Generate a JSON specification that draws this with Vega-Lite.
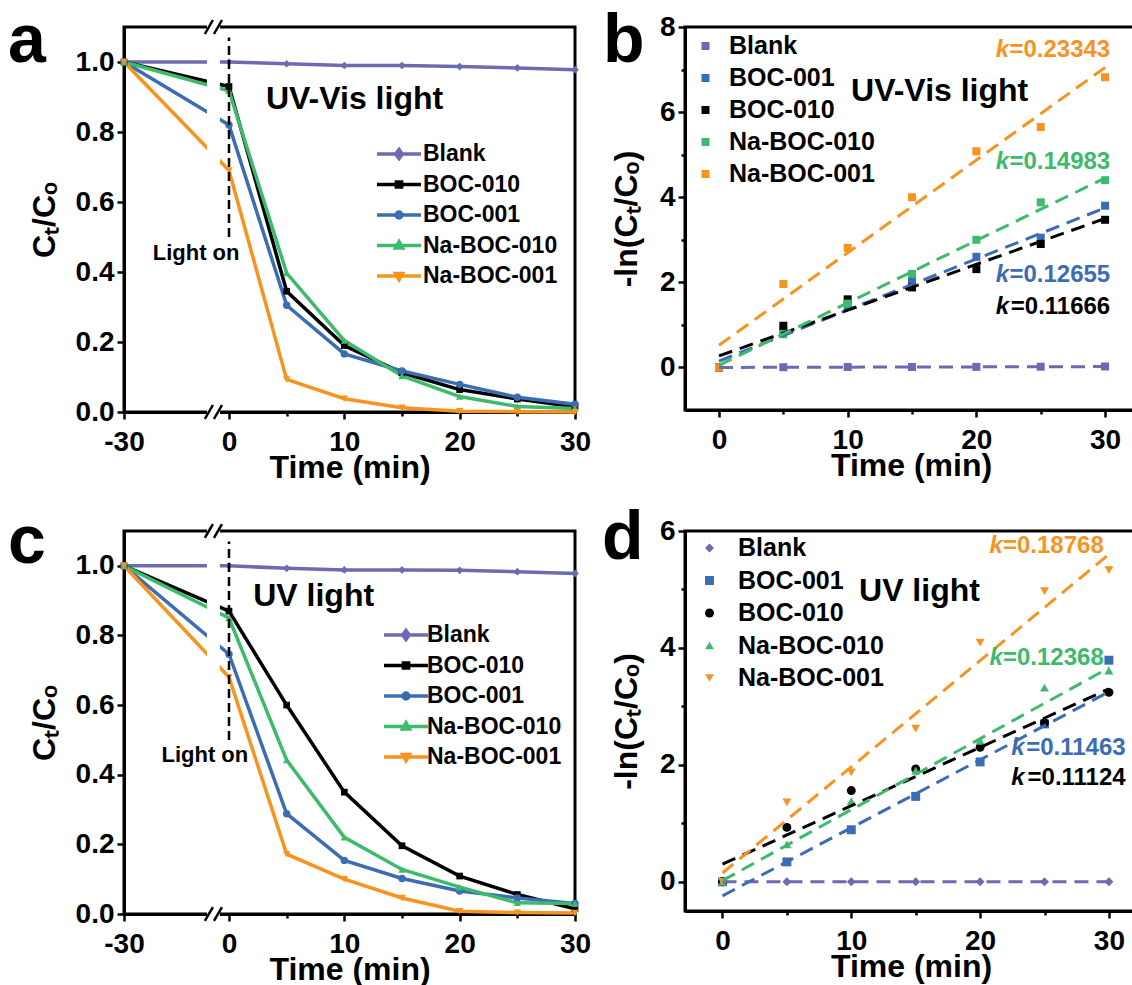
{
"$schema": "https://vega.github.io/schema/vega-lite/v6.json",
"padding": {"left": 6, "top": 6, "right": 0, "bottom": 0},
"background": "white",
"config": {
 "view": {"stroke": "#000", "strokeWidth": 3},
 "axis": {"domainColor": "#000", "domainWidth": 3, "tickColor": "#000", "tickWidth": 2.5, "tickSize": 6, "labelFont": "Liberation Sans", "labelFontSize": 28, "labelFontWeight": "bold", "labelColor": "#000", "titleFont": "Liberation Sans", "titleFontSize": 32, "titleFontWeight": "bold", "titleColor": "#000", "grid": false, "labelFlush": false, "labelOverlap": false, "zindex": 0},
 "axisX": {"labelPadding": 9, "titlePadding": -4},
 "axisY": {"labelPadding": 3, "titlePadding": 14},
 "legend": {"labelFont": "Liberation Sans", "labelFontWeight": "bold", "labelColor": "#000", "padding": 0, "title": null},
 "text": {"font": "Liberation Sans", "fontWeight": "bold"}
},
"datasets": {
 "a_pts": [
  {"s":"Blank","t":-30,"v":1.0},{"s":"Blank","t":0,"v":1.0},{"s":"Blank","t":5,"v":0.995},{"s":"Blank","t":10,"v":0.99},{"s":"Blank","t":15,"v":0.99},{"s":"Blank","t":20,"v":0.987},{"s":"Blank","t":25,"v":0.983},{"s":"Blank","t":30,"v":0.978},
  {"s":"BOC-010","t":-30,"v":1.0},{"s":"BOC-010","t":0,"v":0.93},{"s":"BOC-010","t":5,"v":0.345},{"s":"BOC-010","t":10,"v":0.19},{"s":"BOC-010","t":15,"v":0.112},{"s":"BOC-010","t":20,"v":0.064},{"s":"BOC-010","t":25,"v":0.037},{"s":"BOC-010","t":30,"v":0.015},
  {"s":"BOC-001","t":-30,"v":1.0},{"s":"BOC-001","t":0,"v":0.82},{"s":"BOC-001","t":5,"v":0.305},{"s":"BOC-001","t":10,"v":0.166},{"s":"BOC-001","t":15,"v":0.117},{"s":"BOC-001","t":20,"v":0.079},{"s":"BOC-001","t":25,"v":0.042},{"s":"BOC-001","t":30,"v":0.022},
  {"s":"Na-BOC-010","t":-30,"v":1.0},{"s":"Na-BOC-010","t":0,"v":0.918},{"s":"Na-BOC-010","t":5,"v":0.397},{"s":"Na-BOC-010","t":10,"v":0.204},{"s":"Na-BOC-010","t":15,"v":0.103},{"s":"Na-BOC-010","t":20,"v":0.044},{"s":"Na-BOC-010","t":25,"v":0.016},{"s":"Na-BOC-010","t":30,"v":0.01},
  {"s":"Na-BOC-001","t":-30,"v":1.0},{"s":"Na-BOC-001","t":0,"v":0.69},{"s":"Na-BOC-001","t":5,"v":0.093},{"s":"Na-BOC-001","t":10,"v":0.038},{"s":"Na-BOC-001","t":15,"v":0.012},{"s":"Na-BOC-001","t":20,"v":0.002},{"s":"Na-BOC-001","t":25,"v":0.001},{"s":"Na-BOC-001","t":30,"v":0.0}
 ],
 "c_pts": [
  {"s":"Blank","t":-30,"v":1.0},{"s":"Blank","t":0,"v":1.0},{"s":"Blank","t":5,"v":0.993},{"s":"Blank","t":10,"v":0.988},{"s":"Blank","t":15,"v":0.988},{"s":"Blank","t":20,"v":0.987},{"s":"Blank","t":25,"v":0.983},{"s":"Blank","t":30,"v":0.978},
  {"s":"BOC-010","t":-30,"v":1.0},{"s":"BOC-010","t":0,"v":0.87},{"s":"BOC-010","t":5,"v":0.6},{"s":"BOC-010","t":10,"v":0.35},{"s":"BOC-010","t":15,"v":0.196},{"s":"BOC-010","t":20,"v":0.109},{"s":"BOC-010","t":25,"v":0.056},{"s":"BOC-010","t":30,"v":0.015},
  {"s":"BOC-001","t":-30,"v":1.0},{"s":"BOC-001","t":0,"v":0.746},{"s":"BOC-001","t":5,"v":0.288},{"s":"BOC-001","t":10,"v":0.154},{"s":"BOC-001","t":15,"v":0.102},{"s":"BOC-001","t":20,"v":0.066},{"s":"BOC-001","t":25,"v":0.046},{"s":"BOC-001","t":30,"v":0.03},
  {"s":"Na-BOC-010","t":-30,"v":1.0},{"s":"Na-BOC-010","t":0,"v":0.85},{"s":"Na-BOC-010","t":5,"v":0.442},{"s":"Na-BOC-010","t":10,"v":0.22},{"s":"Na-BOC-010","t":15,"v":0.128},{"s":"Na-BOC-010","t":20,"v":0.077},{"s":"Na-BOC-010","t":25,"v":0.032},{"s":"Na-BOC-010","t":30,"v":0.03},
  {"s":"Na-BOC-001","t":-30,"v":1.0},{"s":"Na-BOC-001","t":0,"v":0.68},{"s":"Na-BOC-001","t":5,"v":0.172},{"s":"Na-BOC-001","t":10,"v":0.1},{"s":"Na-BOC-001","t":15,"v":0.046},{"s":"Na-BOC-001","t":20,"v":0.008},{"s":"Na-BOC-001","t":25,"v":0.004},{"s":"Na-BOC-001","t":30,"v":0.003}
 ],
 "b_pts": [
  {"s":"Blank","t":0,"v":0},{"s":"Blank","t":5,"v":0.005},{"s":"Blank","t":10,"v":0.01},{"s":"Blank","t":15,"v":0.01},{"s":"Blank","t":20,"v":0.013},{"s":"Blank","t":25,"v":0.017},{"s":"Blank","t":30,"v":0.022},
  {"s":"BOC-001","t":0,"v":0},{"s":"BOC-001","t":5,"v":0.85},{"s":"BOC-001","t":10,"v":1.45},{"s":"BOC-001","t":15,"v":2.05},{"s":"BOC-001","t":20,"v":2.6},{"s":"BOC-001","t":25,"v":3.05},{"s":"BOC-001","t":30,"v":3.8},
  {"s":"BOC-010","t":0,"v":0},{"s":"BOC-010","t":5,"v":0.98},{"s":"BOC-010","t":10,"v":1.6},{"s":"BOC-010","t":15,"v":1.88},{"s":"BOC-010","t":20,"v":2.31},{"s":"BOC-010","t":25,"v":2.9},{"s":"BOC-010","t":30,"v":3.47},
  {"s":"Na-BOC-010","t":0,"v":0},{"s":"Na-BOC-010","t":5,"v":0.78},{"s":"Na-BOC-010","t":10,"v":1.5},{"s":"Na-BOC-010","t":15,"v":2.2},{"s":"Na-BOC-010","t":20,"v":3.0},{"s":"Na-BOC-010","t":25,"v":3.88},{"s":"Na-BOC-010","t":30,"v":4.4},
  {"s":"Na-BOC-001","t":0,"v":0},{"s":"Na-BOC-001","t":5,"v":1.96},{"s":"Na-BOC-001","t":10,"v":2.81},{"s":"Na-BOC-001","t":15,"v":4.0},{"s":"Na-BOC-001","t":20,"v":5.08},{"s":"Na-BOC-001","t":25,"v":5.65},{"s":"Na-BOC-001","t":30,"v":6.82}
 ],
 "b_fit": [
  {"s":"Blank","t":0,"v":0},{"s":"Blank","t":30,"v":0.02},
  {"s":"BOC-001","t":0,"v":0.15},{"s":"BOC-001","t":30,"v":3.75},
  {"s":"BOC-010","t":0,"v":0.27},{"s":"BOC-010","t":30,"v":3.5},
  {"s":"Na-BOC-010","t":0,"v":0.05},{"s":"Na-BOC-010","t":30,"v":4.45},
  {"s":"Na-BOC-001","t":0,"v":0.52},{"s":"Na-BOC-001","t":30,"v":7.05}
 ],
 "b_k": [
  {"s":"Na-BOC-001","t":30.4,"v":7.45,"label":"=0.23343"},
  {"s":"Na-BOC-010","t":30.4,"v":4.83,"label":"=0.14983"},
  {"s":"BOC-001","t":30.4,"v":2.17,"label":"=0.12655"},
  {"s":"BOC-010","t":30.4,"v":1.42,"label":"=0.11666"}
 ],
 "d_pts": [
  {"s":"Blank","t":0,"v":0},{"s":"Blank","t":5,"v":0},{"s":"Blank","t":10,"v":0},{"s":"Blank","t":15,"v":0},{"s":"Blank","t":20,"v":0},{"s":"Blank","t":25,"v":0},{"s":"Blank","t":30,"v":0},
  {"s":"BOC-001","t":0,"v":0},{"s":"BOC-001","t":5,"v":0.34},{"s":"BOC-001","t":10,"v":0.89},{"s":"BOC-001","t":15,"v":1.46},{"s":"BOC-001","t":20,"v":2.05},{"s":"BOC-001","t":25,"v":2.7},{"s":"BOC-001","t":30,"v":3.79},
  {"s":"BOC-010","t":0,"v":0},{"s":"BOC-010","t":5,"v":0.93},{"s":"BOC-010","t":10,"v":1.56},{"s":"BOC-010","t":15,"v":1.93},{"s":"BOC-010","t":20,"v":2.3},{"s":"BOC-010","t":25,"v":2.72},{"s":"BOC-010","t":30,"v":3.24},
  {"s":"Na-BOC-010","t":0,"v":0},{"s":"Na-BOC-010","t":5,"v":0.64},{"s":"Na-BOC-010","t":10,"v":1.38},{"s":"Na-BOC-010","t":15,"v":1.9},{"s":"Na-BOC-010","t":20,"v":2.41},{"s":"Na-BOC-010","t":25,"v":3.32},{"s":"Na-BOC-010","t":30,"v":3.61},
  {"s":"Na-BOC-001","t":0,"v":0},{"s":"Na-BOC-001","t":5,"v":1.36},{"s":"Na-BOC-001","t":10,"v":1.87},{"s":"Na-BOC-001","t":15,"v":2.62},{"s":"Na-BOC-001","t":20,"v":4.09},{"s":"Na-BOC-001","t":25,"v":4.97},{"s":"Na-BOC-001","t":30,"v":5.33}
 ],
 "d_fit": [
  {"s":"Blank","t":0,"v":0},{"s":"Blank","t":30,"v":0},
  {"s":"BOC-001","t":0,"v":-0.24},{"s":"BOC-001","t":30,"v":3.25},
  {"s":"BOC-010","t":0,"v":0.3},{"s":"BOC-010","t":30,"v":3.3},
  {"s":"Na-BOC-010","t":0,"v":0.02},{"s":"Na-BOC-010","t":30,"v":3.66},
  {"s":"Na-BOC-001","t":0,"v":0.15},{"s":"Na-BOC-001","t":30,"v":5.6}
 ],
 "d_k": [
  {"s":"Na-BOC-001","t":29.6,"v":5.74,"label":"=0.18768"},
  {"s":"Na-BOC-010","t":29.6,"v":3.83,"label":"=0.12368"},
  {"s":"BOC-001","t":31.3,"v":2.29,"label":"=0.11463"},
  {"s":"BOC-010","t":31.3,"v":1.78,"label":"=0.11124"}
 ],
 "brk_rect": [{"t":-6.3,"t2":-2.6,"v":-0.012,"v2":1.112}],
 "brk_slash": [
  {"t":-6.9,"t2":-4.6,"v":-0.02,"v2":0.02},{"t":-4.3,"t2":-2.0,"v":-0.02,"v2":0.02},
  {"t":-6.9,"t2":-4.6,"v":1.08,"v2":1.12},{"t":-4.3,"t2":-2.0,"v":1.08,"v2":1.12}
 ],
 "light": [{"t":0,"v":0.5,"v2":1.07}]
},
"columns": 2,
"bounds": "flush",
"spacing": {"row": 119, "column": 110},
"resolve": {"scale": {"x": "independent", "y": "independent", "color": "independent", "shape": "independent"}, "legend": {"color": "independent", "shape": "independent"}},
"concat": [
 {
  "width": 451, "height": 385,
  "layer": [
   {"data": {"name": "a_pts"}, "mark": {"type": "line", "strokeWidth": 3.5},
    "encoding": {
     "x": {"field": "t", "type": "quantitative", "scale": {"domain": [-30, 0, 30], "range": [0, 105, 451], "nice": false, "zero": false},
       "axis": {"title": "Time (min)", "values": [-30, 0, 5, 10, 15, 20, 25, 30], "labelExpr": "datum.value % 10 === 0 ? '' + datum.value : ''", "tickSize": {"condition": {"test": "datum.value % 10 !== 0", "value": 4}, "value": 7}}},
     "y": {"field": "v", "type": "quantitative", "scale": {"domain": [0, 1.1], "nice": false, "zero": false},
       "axis": {"title": "Cₜ/Cₒ", "values": [0, 0.1, 0.2, 0.3, 0.4, 0.5, 0.6, 0.7, 0.8, 0.9, 1.0], "labelExpr": "round(datum.value*10) % 2 === 0 ? format(datum.value, '.1f') : ''", "tickSize": {"condition": {"test": "round(datum.value*10) % 2 !== 0", "value": 4}, "value": 7}}},
     "color": {"field": "s", "type": "nominal",
       "scale": {"domain": ["Blank", "BOC-010", "BOC-001", "Na-BOC-010", "Na-BOC-001"], "range": ["#6C6AB0", "#000000", "#3B6CB4", "#3DBA6C", "#F7931E"]},
       "legend": {"orient": "none", "legendX": 263, "legendY": 115, "symbolType": "stroke", "symbolSize": 400, "symbolStrokeWidth": 3.5, "labelFontSize": 23, "labelOffset": 12, "rowPadding": 6.5,
         "encode": {"symbols": {"update": {"shape": {"signal": "datum.value === 'Blank' ? 'M-2.2,0L2.2,0M0,-0.45L0.33,0L0,0.45L-0.33,0Z' : datum.value === 'BOC-010' ? 'M-2.2,0L2.2,0M-0.26,-0.26L0.26,-0.26L0.26,0.26L-0.26,0.26Z' : datum.value === 'BOC-001' ? 'M-2.2,0L2.2,0M-0.29,0A0.29,0.29,0,1,0,0.29,0A0.29,0.29,0,1,0,-0.29,0Z' : datum.value === 'Na-BOC-010' ? 'M-2.2,0L2.2,0M0,-0.38L0.35,0.24L-0.35,0.24Z' : 'M-2.2,0L2.2,0M0,0.38L0.35,-0.24L-0.35,-0.24Z'"}}}}}}
    }},
   {"data": {"name": "a_pts"}, "transform": [{"filter": "datum.s === 'Blank'"}], "mark": {"type": "point", "shape": "diamond", "filled": true, "size": 60, "opacity": 1},
    "encoding": {"x": {"field": "t", "type": "quantitative"}, "y": {"field": "v", "type": "quantitative"}, "color": {"field": "s", "type": "nominal"}}},
   {"data": {"name": "a_pts"}, "transform": [{"filter": "datum.s === 'BOC-010'"}], "mark": {"type": "point", "shape": "square", "filled": true, "size": 45, "opacity": 1},
    "encoding": {"x": {"field": "t", "type": "quantitative"}, "y": {"field": "v", "type": "quantitative"}, "color": {"field": "s", "type": "nominal"}}},
   {"data": {"name": "a_pts"}, "transform": [{"filter": "datum.s === 'BOC-001'"}], "mark": {"type": "point", "shape": "circle", "filled": true, "size": 55, "opacity": 1},
    "encoding": {"x": {"field": "t", "type": "quantitative"}, "y": {"field": "v", "type": "quantitative"}, "color": {"field": "s", "type": "nominal"}}},
   {"data": {"name": "a_pts"}, "transform": [{"filter": "datum.s === 'Na-BOC-010'"}], "mark": {"type": "point", "shape": "triangle-up", "filled": true, "size": 55, "opacity": 1},
    "encoding": {"x": {"field": "t", "type": "quantitative"}, "y": {"field": "v", "type": "quantitative"}, "color": {"field": "s", "type": "nominal"}}},
   {"data": {"name": "a_pts"}, "transform": [{"filter": "datum.s === 'Na-BOC-001'"}], "mark": {"type": "point", "shape": "triangle-down", "filled": true, "size": 55, "opacity": 1},
    "encoding": {"x": {"field": "t", "type": "quantitative"}, "y": {"field": "v", "type": "quantitative"}, "color": {"field": "s", "type": "nominal"}}},
   {"data": {"name": "brk_rect"}, "mark": {"type": "rect", "fill": "white", "stroke": null},
    "encoding": {"x": {"field": "t", "type": "quantitative"}, "x2": {"field": "t2"}, "y": {"field": "v", "type": "quantitative"}, "y2": {"field": "v2"}}},
   {"data": {"name": "brk_slash"}, "mark": {"type": "rule", "color": "#000", "strokeWidth": 2.5},
    "encoding": {"x": {"field": "t", "type": "quantitative"}, "x2": {"field": "t2"}, "y": {"field": "v", "type": "quantitative"}, "y2": {"field": "v2"}}},
   {"data": {"name": "light"}, "mark": {"type": "rule", "color": "#000", "strokeWidth": 2.5, "strokeDash": [9, 5]},
    "encoding": {"x": {"field": "t", "type": "quantitative"}, "y": {"field": "v", "type": "quantitative"}, "y2": {"field": "v2"}}},
   {"data": {"values": [{"t": 3.2, "v": 0.894, "label": "UV-Vis light"}]}, "mark": {"type": "text", "fontSize": 32, "align": "left", "baseline": "middle", "color": "#000"},
    "encoding": {"x": {"field": "t", "type": "quantitative"}, "y": {"field": "v", "type": "quantitative"}, "text": {"field": "label"}}},
   {"data": {"values": [{"t": -9.4, "v": 0.455, "label": "Light on"}]}, "mark": {"type": "text", "fontSize": 22, "align": "center", "baseline": "middle", "color": "#000"},
    "encoding": {"x": {"field": "t", "type": "quantitative"}, "y": {"field": "v", "type": "quantitative"}, "text": {"field": "label"}}},
   {"data": {"values": [{"t": -30, "v": 1.1, "label": "a"}]}, "mark": {"type": "text", "fontSize": 68, "align": "left", "baseline": "alphabetic", "color": "#000", "dx": -116, "dy": 35},
    "encoding": {"x": {"field": "t", "type": "quantitative"}, "y": {"field": "v", "type": "quantitative"}, "text": {"field": "label"}}}
  ]
 },
 {
  "width": 452, "height": 383,
  "layer": [
   {"data": {"name": "b_pts"}, "mark": {"type": "point", "filled": true, "shape": "square", "size": 64, "opacity": 1},
    "encoding": {
     "x": {"field": "t", "type": "quantitative", "scale": {"domain": [-2.64, 32.48], "nice": false, "zero": false},
       "axis": {"title": "Time (min)", "values": [0, 5, 10, 15, 20, 25, 30], "labelExpr": "datum.value % 10 === 0 ? '' + datum.value : ''", "tickSize": {"condition": {"test": "datum.value % 10 !== 0", "value": 4}, "value": 7}}},
     "y": {"field": "v", "type": "quantitative", "scale": {"domain": [-1, 8], "nice": false, "zero": false},
       "axis": {"title": "-ln(Cₜ/Cₒ)", "titlePadding": 16, "values": [0, 1, 2, 3, 4, 5, 6, 7, 8], "labelExpr": "datum.value % 2 === 0 ? '' + datum.value : ''", "tickSize": {"condition": {"test": "datum.value % 2 !== 0", "value": 4}, "value": 7}}},
     "color": {"field": "s", "type": "nominal",
       "scale": {"domain": ["Blank", "BOC-001", "BOC-010", "Na-BOC-010", "Na-BOC-001"], "range": ["#6C6AB0", "#3B6CB4", "#000000", "#3DBA6C", "#F7931E"]},
       "legend": {"orient": "none", "legendX": 8, "legendY": 6.5, "symbolType": "square", "symbolSize": 64, "symbolStrokeWidth": 0, "labelFontSize": 25, "labelOffset": 11, "rowPadding": 6}}
    }},
   {"data": {"name": "b_fit"}, "mark": {"type": "line", "strokeWidth": 3, "strokeDash": [14, 8]},
    "encoding": {"x": {"field": "t", "type": "quantitative"}, "y": {"field": "v", "type": "quantitative"}, "color": {"field": "s", "type": "nominal"}}},
   {"data": {"values": [{"t": 10.26, "v": 6.5, "label": "UV-Vis light"}]}, "mark": {"type": "text", "fontSize": 32, "align": "left", "baseline": "middle", "color": "#000"},
    "encoding": {"x": {"field": "t", "type": "quantitative"}, "y": {"field": "v", "type": "quantitative"}, "text": {"field": "label"}}},
   {"data": {"name": "b_k"}, "mark": {"type": "text", "fontSize": 24, "align": "right", "baseline": "middle"},
    "encoding": {"x": {"field": "t", "type": "quantitative"}, "y": {"field": "v", "type": "quantitative"}, "text": {"field": "label"}, "color": {"field": "s", "type": "nominal"}}},
   {"data": {"name": "b_k"}, "mark": {"type": "text", "fontSize": 24, "fontStyle": "italic", "align": "right", "baseline": "middle", "dx": -101},
    "encoding": {"x": {"field": "t", "type": "quantitative"}, "y": {"field": "v", "type": "quantitative"}, "text": {"value": "k"}, "color": {"field": "s", "type": "nominal"}}},
   {"data": {"values": [{"t": -2.64, "v": 8, "label": "b"}]}, "mark": {"type": "text", "fontSize": 68, "align": "left", "baseline": "alphabetic", "color": "#000", "dx": -82, "dy": 35},
    "encoding": {"x": {"field": "t", "type": "quantitative"}, "y": {"field": "v", "type": "quantitative"}, "text": {"field": "label"}}}
  ]
 },
 {
  "width": 451, "height": 383,
  "layer": [
   {"data": {"name": "c_pts"}, "mark": {"type": "line", "strokeWidth": 3.5},
    "encoding": {
     "x": {"field": "t", "type": "quantitative", "scale": {"domain": [-30, 0, 30], "range": [0, 105, 451], "nice": false, "zero": false},
       "axis": {"title": "Time (min)", "values": [-30, 0, 5, 10, 15, 20, 25, 30], "labelExpr": "datum.value % 10 === 0 ? '' + datum.value : ''", "tickSize": {"condition": {"test": "datum.value % 10 !== 0", "value": 4}, "value": 7}}},
     "y": {"field": "v", "type": "quantitative", "scale": {"domain": [0, 1.1], "nice": false, "zero": false},
       "axis": {"title": "Cₜ/Cₒ", "values": [0, 0.1, 0.2, 0.3, 0.4, 0.5, 0.6, 0.7, 0.8, 0.9, 1.0], "labelExpr": "round(datum.value*10) % 2 === 0 ? format(datum.value, '.1f') : ''", "tickSize": {"condition": {"test": "round(datum.value*10) % 2 !== 0", "value": 4}, "value": 7}}},
     "color": {"field": "s", "type": "nominal",
       "scale": {"domain": ["Blank", "BOC-010", "BOC-001", "Na-BOC-010", "Na-BOC-001"], "range": ["#6C6AB0", "#000000", "#3B6CB4", "#3DBA6C", "#F7931E"]},
       "legend": {"orient": "none", "legendX": 270, "legendY": 92, "symbolType": "stroke", "symbolSize": 400, "symbolStrokeWidth": 3.5, "labelFontSize": 23, "labelOffset": 9, "rowPadding": 6.5,
         "encode": {"symbols": {"update": {"shape": {"signal": "datum.value === 'Blank' ? 'M-2.2,0L2.2,0M0,-0.45L0.33,0L0,0.45L-0.33,0Z' : datum.value === 'BOC-010' ? 'M-2.2,0L2.2,0M-0.26,-0.26L0.26,-0.26L0.26,0.26L-0.26,0.26Z' : datum.value === 'BOC-001' ? 'M-2.2,0L2.2,0M-0.29,0A0.29,0.29,0,1,0,0.29,0A0.29,0.29,0,1,0,-0.29,0Z' : datum.value === 'Na-BOC-010' ? 'M-2.2,0L2.2,0M0,-0.38L0.35,0.24L-0.35,0.24Z' : 'M-2.2,0L2.2,0M0,0.38L0.35,-0.24L-0.35,-0.24Z'"}}}}}}
    }},
   {"data": {"name": "c_pts"}, "transform": [{"filter": "datum.s === 'Blank'"}], "mark": {"type": "point", "shape": "diamond", "filled": true, "size": 60, "opacity": 1},
    "encoding": {"x": {"field": "t", "type": "quantitative"}, "y": {"field": "v", "type": "quantitative"}, "color": {"field": "s", "type": "nominal"}}},
   {"data": {"name": "c_pts"}, "transform": [{"filter": "datum.s === 'BOC-010'"}], "mark": {"type": "point", "shape": "square", "filled": true, "size": 45, "opacity": 1},
    "encoding": {"x": {"field": "t", "type": "quantitative"}, "y": {"field": "v", "type": "quantitative"}, "color": {"field": "s", "type": "nominal"}}},
   {"data": {"name": "c_pts"}, "transform": [{"filter": "datum.s === 'BOC-001'"}], "mark": {"type": "point", "shape": "circle", "filled": true, "size": 55, "opacity": 1},
    "encoding": {"x": {"field": "t", "type": "quantitative"}, "y": {"field": "v", "type": "quantitative"}, "color": {"field": "s", "type": "nominal"}}},
   {"data": {"name": "c_pts"}, "transform": [{"filter": "datum.s === 'Na-BOC-010'"}], "mark": {"type": "point", "shape": "triangle-up", "filled": true, "size": 55, "opacity": 1},
    "encoding": {"x": {"field": "t", "type": "quantitative"}, "y": {"field": "v", "type": "quantitative"}, "color": {"field": "s", "type": "nominal"}}},
   {"data": {"name": "c_pts"}, "transform": [{"filter": "datum.s === 'Na-BOC-001'"}], "mark": {"type": "point", "shape": "triangle-down", "filled": true, "size": 55, "opacity": 1},
    "encoding": {"x": {"field": "t", "type": "quantitative"}, "y": {"field": "v", "type": "quantitative"}, "color": {"field": "s", "type": "nominal"}}},
   {"data": {"name": "brk_rect"}, "mark": {"type": "rect", "fill": "white", "stroke": null},
    "encoding": {"x": {"field": "t", "type": "quantitative"}, "x2": {"field": "t2"}, "y": {"field": "v", "type": "quantitative"}, "y2": {"field": "v2"}}},
   {"data": {"name": "brk_slash"}, "mark": {"type": "rule", "color": "#000", "strokeWidth": 2.5},
    "encoding": {"x": {"field": "t", "type": "quantitative"}, "x2": {"field": "t2"}, "y": {"field": "v", "type": "quantitative"}, "y2": {"field": "v2"}}},
   {"data": {"name": "light"}, "mark": {"type": "rule", "color": "#000", "strokeWidth": 2.5, "strokeDash": [9, 5]},
    "encoding": {"x": {"field": "t", "type": "quantitative"}, "y": {"field": "v", "type": "quantitative"}, "y2": {"field": "v2"}}},
   {"data": {"values": [{"t": 2.1, "v": 0.914, "label": "UV light"}]}, "mark": {"type": "text", "fontSize": 32, "align": "left", "baseline": "middle", "color": "#000"},
    "encoding": {"x": {"field": "t", "type": "quantitative"}, "y": {"field": "v", "type": "quantitative"}, "text": {"field": "label"}}},
   {"data": {"values": [{"t": -6.9, "v": 0.456, "label": "Light on"}]}, "mark": {"type": "text", "fontSize": 22, "align": "center", "baseline": "middle", "color": "#000"},
    "encoding": {"x": {"field": "t", "type": "quantitative"}, "y": {"field": "v", "type": "quantitative"}, "text": {"field": "label"}}},
   {"data": {"values": [{"t": -30, "v": 1.1, "label": "c"}]}, "mark": {"type": "text", "fontSize": 68, "align": "left", "baseline": "alphabetic", "color": "#000", "dx": -116, "dy": 32},
    "encoding": {"x": {"field": "t", "type": "quantitative"}, "y": {"field": "v", "type": "quantitative"}, "text": {"field": "label"}}}
  ]
 },
 {
  "width": 452, "height": 380,
  "layer": [
   {"data": {"name": "d_pts"}, "mark": {"type": "point", "filled": true, "size": 80, "opacity": 1},
    "encoding": {
     "x": {"field": "t", "type": "quantitative", "scale": {"domain": [-2.91, 32.18], "nice": false, "zero": false},
       "axis": {"title": "Time (min)", "values": [0, 5, 10, 15, 20, 25, 30], "labelExpr": "datum.value % 10 === 0 ? '' + datum.value : ''", "tickSize": {"condition": {"test": "datum.value % 10 !== 0", "value": 4}, "value": 7}}},
     "y": {"field": "v", "type": "quantitative", "scale": {"domain": [-0.5, 6], "nice": false, "zero": false},
       "axis": {"title": "-ln(Cₜ/Cₒ)", "titlePadding": 16, "values": [0, 1, 2, 3, 4, 5, 6], "labelExpr": "datum.value % 2 === 0 ? '' + datum.value : ''", "tickSize": {"condition": {"test": "datum.value % 2 !== 0", "value": 4}, "value": 7}}},
     "color": {"field": "s", "type": "nominal",
       "scale": {"domain": ["Blank", "BOC-001", "BOC-010", "Na-BOC-010", "Na-BOC-001"], "range": ["#6C6AB0", "#3B6CB4", "#000000", "#3DBA6C", "#F7931E"]},
       "legend": {"orient": "none", "legendX": 12, "legendY": 4.5, "symbolSize": 80, "symbolStrokeWidth": 0, "labelFontSize": 25, "labelOffset": 16, "rowPadding": 6.5}},
     "shape": {"field": "s", "type": "nominal", "scale": {"domain": ["Blank", "BOC-001", "BOC-010", "Na-BOC-010", "Na-BOC-001"], "range": ["diamond", "square", "circle", "triangle-up", "triangle-down"]},
       "legend": {"orient": "none", "legendX": 12, "legendY": 4.5, "symbolSize": 80, "symbolStrokeWidth": 0, "labelFontSize": 25, "labelOffset": 16, "rowPadding": 6.5}}
    }},
   {"data": {"name": "d_fit"}, "mark": {"type": "line", "strokeWidth": 3, "strokeDash": [14, 8]},
    "encoding": {"x": {"field": "t", "type": "quantitative"}, "y": {"field": "v", "type": "quantitative"}, "color": {"field": "s", "type": "nominal"}}},
   {"data": {"values": [{"t": 10.6, "v": 4.97, "label": "UV light"}]}, "mark": {"type": "text", "fontSize": 32, "align": "left", "baseline": "middle", "color": "#000"},
    "encoding": {"x": {"field": "t", "type": "quantitative"}, "y": {"field": "v", "type": "quantitative"}, "text": {"field": "label"}}},
   {"data": {"name": "d_k"}, "mark": {"type": "text", "fontSize": 24, "align": "right", "baseline": "middle"},
    "encoding": {"x": {"field": "t", "type": "quantitative"}, "y": {"field": "v", "type": "quantitative"}, "text": {"field": "label"}, "color": {"field": "s", "type": "nominal"}}},
   {"data": {"name": "d_k"}, "mark": {"type": "text", "fontSize": 24, "fontStyle": "italic", "align": "right", "baseline": "middle", "dx": -101},
    "encoding": {"x": {"field": "t", "type": "quantitative"}, "y": {"field": "v", "type": "quantitative"}, "text": {"value": "k"}, "color": {"field": "s", "type": "nominal"}}},
   {"data": {"values": [{"t": -2.91, "v": 6, "label": "d"}]}, "mark": {"type": "text", "fontSize": 68, "align": "left", "baseline": "alphabetic", "color": "#000", "dx": -83, "dy": 28},
    "encoding": {"x": {"field": "t", "type": "quantitative"}, "y": {"field": "v", "type": "quantitative"}, "text": {"field": "label"}}}
  ]
 }
]
}
